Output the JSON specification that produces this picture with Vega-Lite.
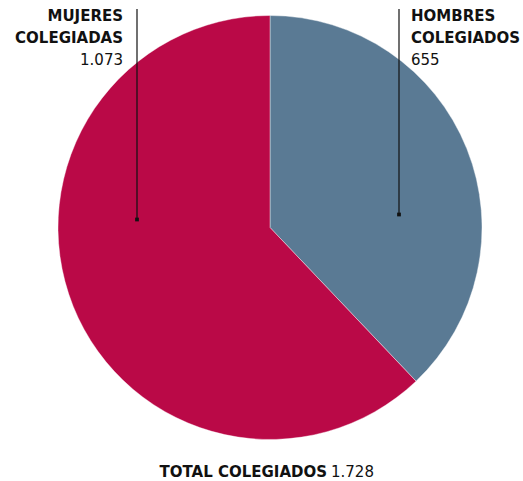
{
  "$schema": "https://vega.github.io/schema/vega-lite/v6.json",
  "width": 523,
  "height": 481,
  "autosize": {"type": "fit", "contains": "padding"},
  "padding": 0,
  "background": "#ffffff",
  "config": {
    "view": {"stroke": null},
    "locale": {"number": {"decimal": ",", "thousands": ".", "grouping": [3], "currency": ["", " €"]}},
    "text": {"font": "DejaVu Sans", "fill": "#111111"}
  },
  "data": {
    "values": [
      {"sexo": "HOMBRES COLEGIADOS", "colegiados": 655},
      {"sexo": "MUJERES COLEGIADAS", "colegiados": 1073}
    ]
  },
  "layer": [
    {
      "mark": {"type": "arc", "x": 270, "y": 227.5, "outerRadius": 212, "stroke": "#ffffff", "strokeWidth": 0.4},
      "encoding": {
        "theta": {"field": "colegiados", "type": "quantitative", "stack": true},
        "order": {"field": "sexo", "type": "nominal"},
        "color": {
          "field": "sexo", "type": "nominal", "legend": null,
          "scale": {"domain": ["HOMBRES COLEGIADOS", "MUJERES COLEGIADAS"], "range": ["#5a7a94", "#ba0947"]}
        }
      }
    },
    {
      "transform": [{"filter": "datum.sexo === 'MUJERES COLEGIADAS'"}],
      "layer": [
        {"mark": {"type": "rule", "stroke": "#111111", "strokeWidth": 1.2},
         "encoding": {"x": {"value": 137}, "y": {"value": 9}, "y2": {"value": 220}}},
        {"mark": {"type": "square", "size": 14, "fill": "#111111", "opacity": 1},
         "encoding": {"x": {"value": 137}, "y": {"value": 219.5}}},
        {"mark": {"type": "text", "x": 123, "y": 21, "align": "right", "baseline": "alphabetic", "fontSize": 15, "fontWeight": "bold", "lineBreak": " ", "lineHeight": 22},
         "encoding": {"text": {"field": "sexo"}}},
        {"mark": {"type": "text", "x": 123, "y": 65, "align": "right", "baseline": "alphabetic", "fontSize": 15},
         "encoding": {"text": {"field": "colegiados", "type": "quantitative", "format": ","}}}
      ]
    },
    {
      "transform": [{"filter": "datum.sexo === 'HOMBRES COLEGIADOS'"}],
      "layer": [
        {"mark": {"type": "rule", "stroke": "#111111", "strokeWidth": 1.2},
         "encoding": {"x": {"value": 399}, "y": {"value": 9}, "y2": {"value": 215}}},
        {"mark": {"type": "square", "size": 14, "fill": "#111111", "opacity": 1},
         "encoding": {"x": {"value": 399}, "y": {"value": 214.5}}},
        {"mark": {"type": "text", "x": 411, "y": 21, "align": "left", "baseline": "alphabetic", "fontSize": 15, "fontWeight": "bold", "lineBreak": " ", "lineHeight": 22},
         "encoding": {"text": {"field": "sexo"}}},
        {"mark": {"type": "text", "x": 411, "y": 65, "align": "left", "baseline": "alphabetic", "fontSize": 15},
         "encoding": {"text": {"field": "colegiados", "type": "quantitative", "format": ","}}}
      ]
    },
    {
      "transform": [{"aggregate": [{"op": "sum", "field": "colegiados", "as": "total"}]}],
      "layer": [
        {"mark": {"type": "text", "x": 327, "y": 477, "align": "right", "baseline": "alphabetic", "fontSize": 15, "fontWeight": "bold", "text": "TOTAL COLEGIADOS"}, "encoding": {}},
        {"mark": {"type": "text", "x": 331, "y": 477, "align": "left", "baseline": "alphabetic", "fontSize": 15},
         "encoding": {"text": {"field": "total", "type": "quantitative", "format": ","}}}
      ]
    }
  ]
}
